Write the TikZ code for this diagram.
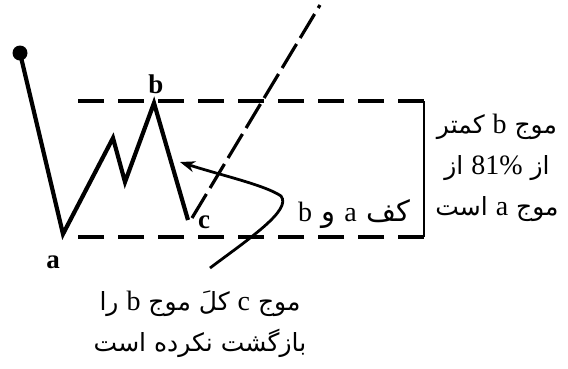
\documentclass[tikz,border=0pt]{standalone}
\usepackage{fontspec}
\setmainfont{Liberation Serif}
\newfontfamily\arabicfont[Script=Arabic]{DejaVu Sans}
\newfontfamily\latinfont{Liberation Serif}
\newcommand{\lat}[1]{{\latinfont\fontsize{28}{41}\selectfont #1}}
\TeXXeTstate=1
\usetikzlibrary{arrows.meta}

\begin{document}
\begin{tikzpicture}[x=1pt,y=-1pt,>=Stealth,
  wave/.style={line width=4.2pt,line join=miter},
  guide/.style={line width=3.2pt,dash pattern=on 26pt off 14pt},
  trend/.style={line width=3.2pt,dash pattern=on 28pt off 7pt},
  point/.style={font=\fontsize{27}{27}\selectfont\bfseries,inner sep=0pt},
  note/.style={font=\arabicfont\fontsize{25}{41}\selectfont,align=center,inner sep=0pt}]
  \useasboundingbox (0,0) rectangle (568,368);
  % wave points
  \coordinate (start) at (20,53);
  \coordinate (A) at (63,234);
  \coordinate (P) at (113,138);
  \coordinate (T) at (125,182);
  \coordinate (B) at (154,103);
  \coordinate (C) at (188,220);
  \draw[wave] (start) -- (A) -- (P) -- (T) -- (B) -- (C);
  \fill (start) circle (7.5);
  % box of a and b
  \coordinate (tl) at (72,101);
  \coordinate (tr) at (424,101);
  \coordinate (bl) at (68,237);
  \coordinate (br) at (424,237);
  \draw[guide] (tr) -- (tl);
  \draw[guide] (br) -- (bl);
  \draw[line width=2.8pt] (tr) -- (br);
  % trend line
  \coordinate (cs) at (192,218);
  \coordinate (tip) at (320,5);
  \draw[trend] (cs) -- (tip);
  % arrow
  \coordinate (from) at (210,268);
  \coordinate (to) at (180,162);
  \draw[line width=2.8pt,arrows={-Stealth[length=15pt,width=11pt]}]
    (from) .. controls (250,238) and (292,210) .. (281,196)
    .. controls (265,185) and (220,175) .. (to);
  % labels
  \node[point] (la) at (53,262) {a};
  \node[point] (lb) at (156,84) {b};
  \node[point] (lc) at (204,222) {c};
  \node[note,font=\arabicfont\fontsize{29}{41}\selectfont] (floor) at (354,214)
    {\beginR کف \lat{a} و \lat{b}\endR};
  \node[note] (rule) at (497,168) {\beginR موج \lat{b} کمتر\endR\\
    \beginR از \beginL\lat{81\%}\endL{} از\endR\\
    \beginR موج \lat{a} است\endR};
  \node[note] (ret) at (200,324) {\beginR موج \lat{c} کلَ موج \lat{b} را\endR\\
    \beginR بازگشت نکرده است\endR};
\end{tikzpicture}
\end{document}
